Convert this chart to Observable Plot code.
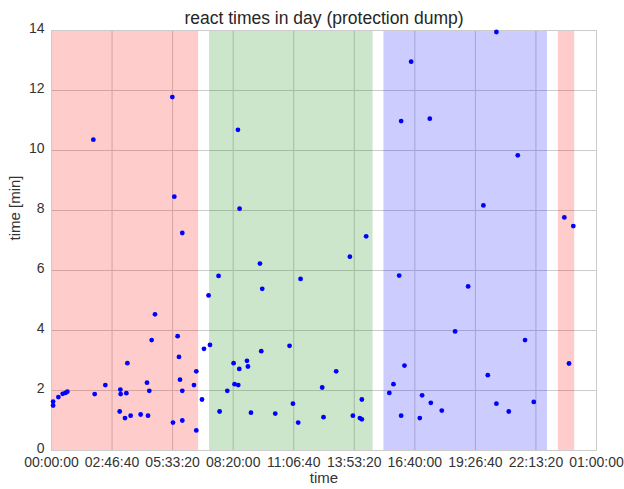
<!DOCTYPE html>
<html>
<head>
<meta charset="utf-8">
<script src="https://cdn.jsdelivr.net/npm/d3@7"></script>
<script src="https://cdn.jsdelivr.net/npm/@observablehq/plot@0.6"></script>
<style>
  body { margin: 0; background: #fff; font-family: "Liberation Sans", Arial, sans-serif; }
</style>
</head>
<body>
<div id="chart"></div>
<script>
// Time of day of each reaction, in seconds after midnight
const reactSeconds = [
  264, 264, 1140, 1850, 2290, 2620, 6910, 7130, 8890, 11260,
  11370, 11420, 12140, 12360, 12530, 13070, 14720, 15770, 15940, 16150,
  16540, 17090, 19950, 20060, 20280, 20830, 21050, 21220, 21600, 21600,
  21600, 23530, 23910, 23910, 24850, 25180, 25940, 26170, 27590, 27760,
  29030, 30070, 30230, 30790, 30840, 31010, 31060, 32280, 32440, 32940,
  34420, 34640, 34800, 36950, 39310, 39870, 40740, 41130, 44700, 44920,
  47010, 49270, 49770, 50920, 51250, 51250, 51960, 55790, 56470, 57410,
  57740, 57740, 58290, 59390, 60820, 61200, 62470, 62640, 64450, 66650,
  68800, 71320, 72050, 73470, 73470, 75510, 77000, 78200, 79640, 84690,
  85460, 86170
];
// Reaction time for each of them, in minutes
const reactMinutes = [
  1.63, 1.50, 1.78, 1.89, 1.92, 1.96, 10.36, 1.88, 2.18, 1.30,
  2.03, 1.88, 1.08, 1.91, 2.91, 1.16, 1.20, 2.26, 1.16, 1.99,
  3.68, 4.54, 11.78, 0.93, 8.46, 3.81, 3.12, 2.36, 1.99, 1.00,
  7.25, 2.18, 2.64, 0.67, 1.70, 3.39, 5.17, 3.52, 5.82, 1.30,
  1.99, 2.91, 2.21, 10.69, 2.18, 2.72, 8.06, 2.99, 2.80, 1.26,
  6.23, 3.31, 5.39, 1.23, 3.49, 1.56, 0.93, 5.72, 2.10, 1.11,
  2.64, 6.46, 1.16, 1.08, 1.04, 1.70, 7.14, 1.92, 2.21, 5.83,
  10.98, 1.16, 2.83, 12.96, 1.08, 1.84, 11.06, 1.59, 1.33, 3.97,
  5.47, 8.17, 2.51, 13.95, 1.56, 1.30, 9.84, 3.68, 1.62, 7.77,
  2.90, 7.48
];

// Shifts of the day (seconds after midnight) and their colours
const shiftStart = [0, 26100, 54900, 83700];
const shiftEnd = [24300, 53100, 81900, 86400];
const shiftColor = ["red", "green", "blue", "red"];

// Axis ticks
const xTicks = [0, 10000, 20000, 30000, 40000, 50000, 60000, 70000, 80000, 90000];
const yTicks = [0, 2, 4, 6, 8, 10, 12, 14];

const points = reactSeconds.map((s, i) => ({s, m: reactMinutes[i]}));
const shifts = shiftStart.map((s, i) => ({start: s, end: shiftEnd[i], color: shiftColor[i]}));

const pad = (n) => String(n).padStart(2, "0");
const clock = (sec) => {
  const t = ((sec % 86400) + 86400) % 86400;
  return `${pad(Math.floor(t / 3600))}:${pad(Math.floor((t % 3600) / 60))}:${pad(Math.floor(t % 60))}`;
};

const grid = "#cccccc";
const ink = "#333333";

const chart = Plot.plot({
  width: 624,
  height: 489,
  marginLeft: 51,
  marginRight: 28,
  marginTop: 30,
  marginBottom: 39,
  style: {fontFamily: "'Liberation Sans', Arial, sans-serif", background: "#fff", color: ink},
  x: {domain: [0, 90000]},
  y: {domain: [0, 14]},
  color: {type: "identity"},
  marks: [
    Plot.gridX(xTicks, {stroke: grid, strokeOpacity: 1}),
    Plot.gridY(yTicks, {stroke: grid, strokeOpacity: 1}),
    Plot.rect(shifts, {x1: "start", x2: "end", fill: "color", fillOpacity: 0.2}),
    Plot.frame({stroke: grid}),
    Plot.dot(points, {x: "s", y: "m", r: 2.4, fill: "#0000ff"}),
    Plot.axisX(xTicks, {tickSize: 0, tickPadding: 7, tickFormat: clock, fontSize: 14, label: null, fill: ink}),
    Plot.axisY(yTicks, {tickSize: 0, tickPadding: 7, dy: -2, fontSize: 14, label: null, fill: ink}),
    Plot.text(["react times in day (protection dump)"], {frameAnchor: "top", dy: -19, fontSize: 17.5, fill: "#262626"}),
    Plot.text(["time"], {frameAnchor: "bottom", dy: 32, fontSize: 15, fill: ink}),
    Plot.text(["time [min]"], {frameAnchor: "left", dx: -36, rotate: -90, fontSize: 15, fill: ink})
  ]
});

document.getElementById("chart").appendChild(chart);
</script>
</body>
</html>
